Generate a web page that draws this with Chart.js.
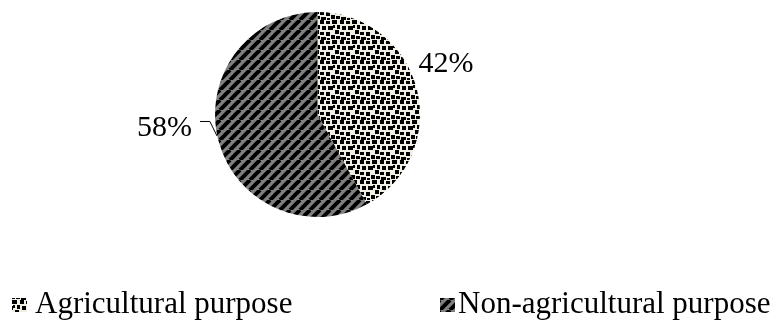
<!DOCTYPE html>
<html>
<head>
<meta charset="utf-8">
<script src="https://cdn.jsdelivr.net/npm/chart.js@4/dist/chart.umd.min.js"></script>
<style>
  html, body { margin: 0; padding: 0; background: #ffffff; }
  #wrap { position: relative; width: 782px; height: 323px; }
</style>
</head>
<body>
<div id="wrap"><canvas id="chart" width="782" height="323"></canvas></div>
<script>
// Land use shares
const categories = ['Agricultural purpose', 'Non-agricultural purpose'];
const shares = [42, 58];
const shareLabels = shares.map(v => v + '%');

const SERIF = '"Liberation Serif", "Times New Roman", serif';

// Cream tile sprinkled with small black squares
function dotPattern() {
  const c = document.createElement('canvas');
  c.width = 20; c.height = 20;
  const g = c.getContext('2d');
  g.fillStyle = '#f1efe3';
  g.fillRect(0, 0, 20, 20);
  g.fillStyle = '#000000';
  const squares = [
    [0, 0, 4, 4], [6, 1, 4, 3], [12, 0, 5, 4], [17, 5, 3, 4],
    [2, 6, 4, 4], [8, 6, 5, 4], [15, 10, 4, 4], [0, 12, 4, 3],
    [6, 12, 4, 4], [11, 15, 4, 4], [1, 17, 5, 3], [16, 16, 4, 3],
    [13, 5, 2, 3], [7, 18, 3, 2]
  ];
  squares.forEach(s => g.fillRect(s[0], s[1], s[2], s[3]));
  return g.createPattern(c, 'repeat');
}

// Grey tile with dark diagonal stripes rising to the right
function stripePattern() {
  const n = 10;
  const c = document.createElement('canvas');
  c.width = n; c.height = n;
  const g = c.getContext('2d');
  g.fillStyle = '#808080';
  g.fillRect(0, 0, n, n);
  g.strokeStyle = '#000000';
  g.lineWidth = 4;
  g.lineCap = 'butt';
  [-n, 0, n].forEach(dx => {
    g.beginPath();
    g.moveTo(dx, n);
    g.lineTo(dx + n, 0);
    g.stroke();
  });
  return g.createPattern(c, 'repeat');
}

const fills = [dotPattern(), stripePattern()];

// Percentage labels, leader line and legend drawn after the pie
const annotate = {
  id: 'annotate',
  afterDraw(chart) {
    const ctx = chart.ctx;
    const arc = chart.getDatasetMeta(0).data[0];
    const cx = arc.x, cy = arc.y, r = arc.outerRadius;

    ctx.save();
    ctx.fillStyle = '#000000';
    ctx.font = '30px ' + SERIF;
    ctx.textBaseline = 'middle';

    // 42% on the right
    ctx.textAlign = 'left';
    ctx.fillText(shareLabels[0], cx + 0.985 * r, cy - 0.49 * r);

    // 58% on the left with a leader line to the slice edge
    ctx.textAlign = 'right';
    ctx.fillText(shareLabels[1], cx - 1.225 * r, cy + 0.13 * r);
    ctx.strokeStyle = '#000000';
    ctx.lineWidth = 1;
    ctx.beginPath();
    ctx.moveTo(cx - 1.146 * r, cy + 0.068 * r);
    ctx.lineTo(cx - 1.05 * r, cy + 0.068 * r);
    ctx.lineTo(cx - 0.98 * r, cy + 0.21 * r);
    ctx.stroke();

    // Legend
    ctx.font = '31px ' + SERIF;
    ctx.textAlign = 'left';
    ctx.textBaseline = 'alphabetic';
    const items = [
      { box: 12, text: 35 },
      { box: 440, text: 458 }
    ];
    items.forEach((it, i) => {
      ctx.fillStyle = fills[i];
      ctx.fillRect(it.box, 298, 15, 14);
      ctx.fillStyle = '#000000';
      ctx.fillText(categories[i], it.text, 313);
    });
    ctx.restore();
  }
};

new Chart(document.getElementById('chart'), {
  type: 'pie',
  data: {
    labels: categories,
    datasets: [{
      data: shares,
      backgroundColor: fills,
      borderWidth: 0,
      hoverOffset: 0
    }]
  },
  options: {
    responsive: false,
    animation: false,
    events: [],
    layout: { padding: { top: 12, bottom: 106, left: 215, right: 362 } },
    plugins: {
      legend: { display: false },
      tooltip: { enabled: false }
    }
  },
  plugins: [annotate]
});
</script>
</body>
</html>
